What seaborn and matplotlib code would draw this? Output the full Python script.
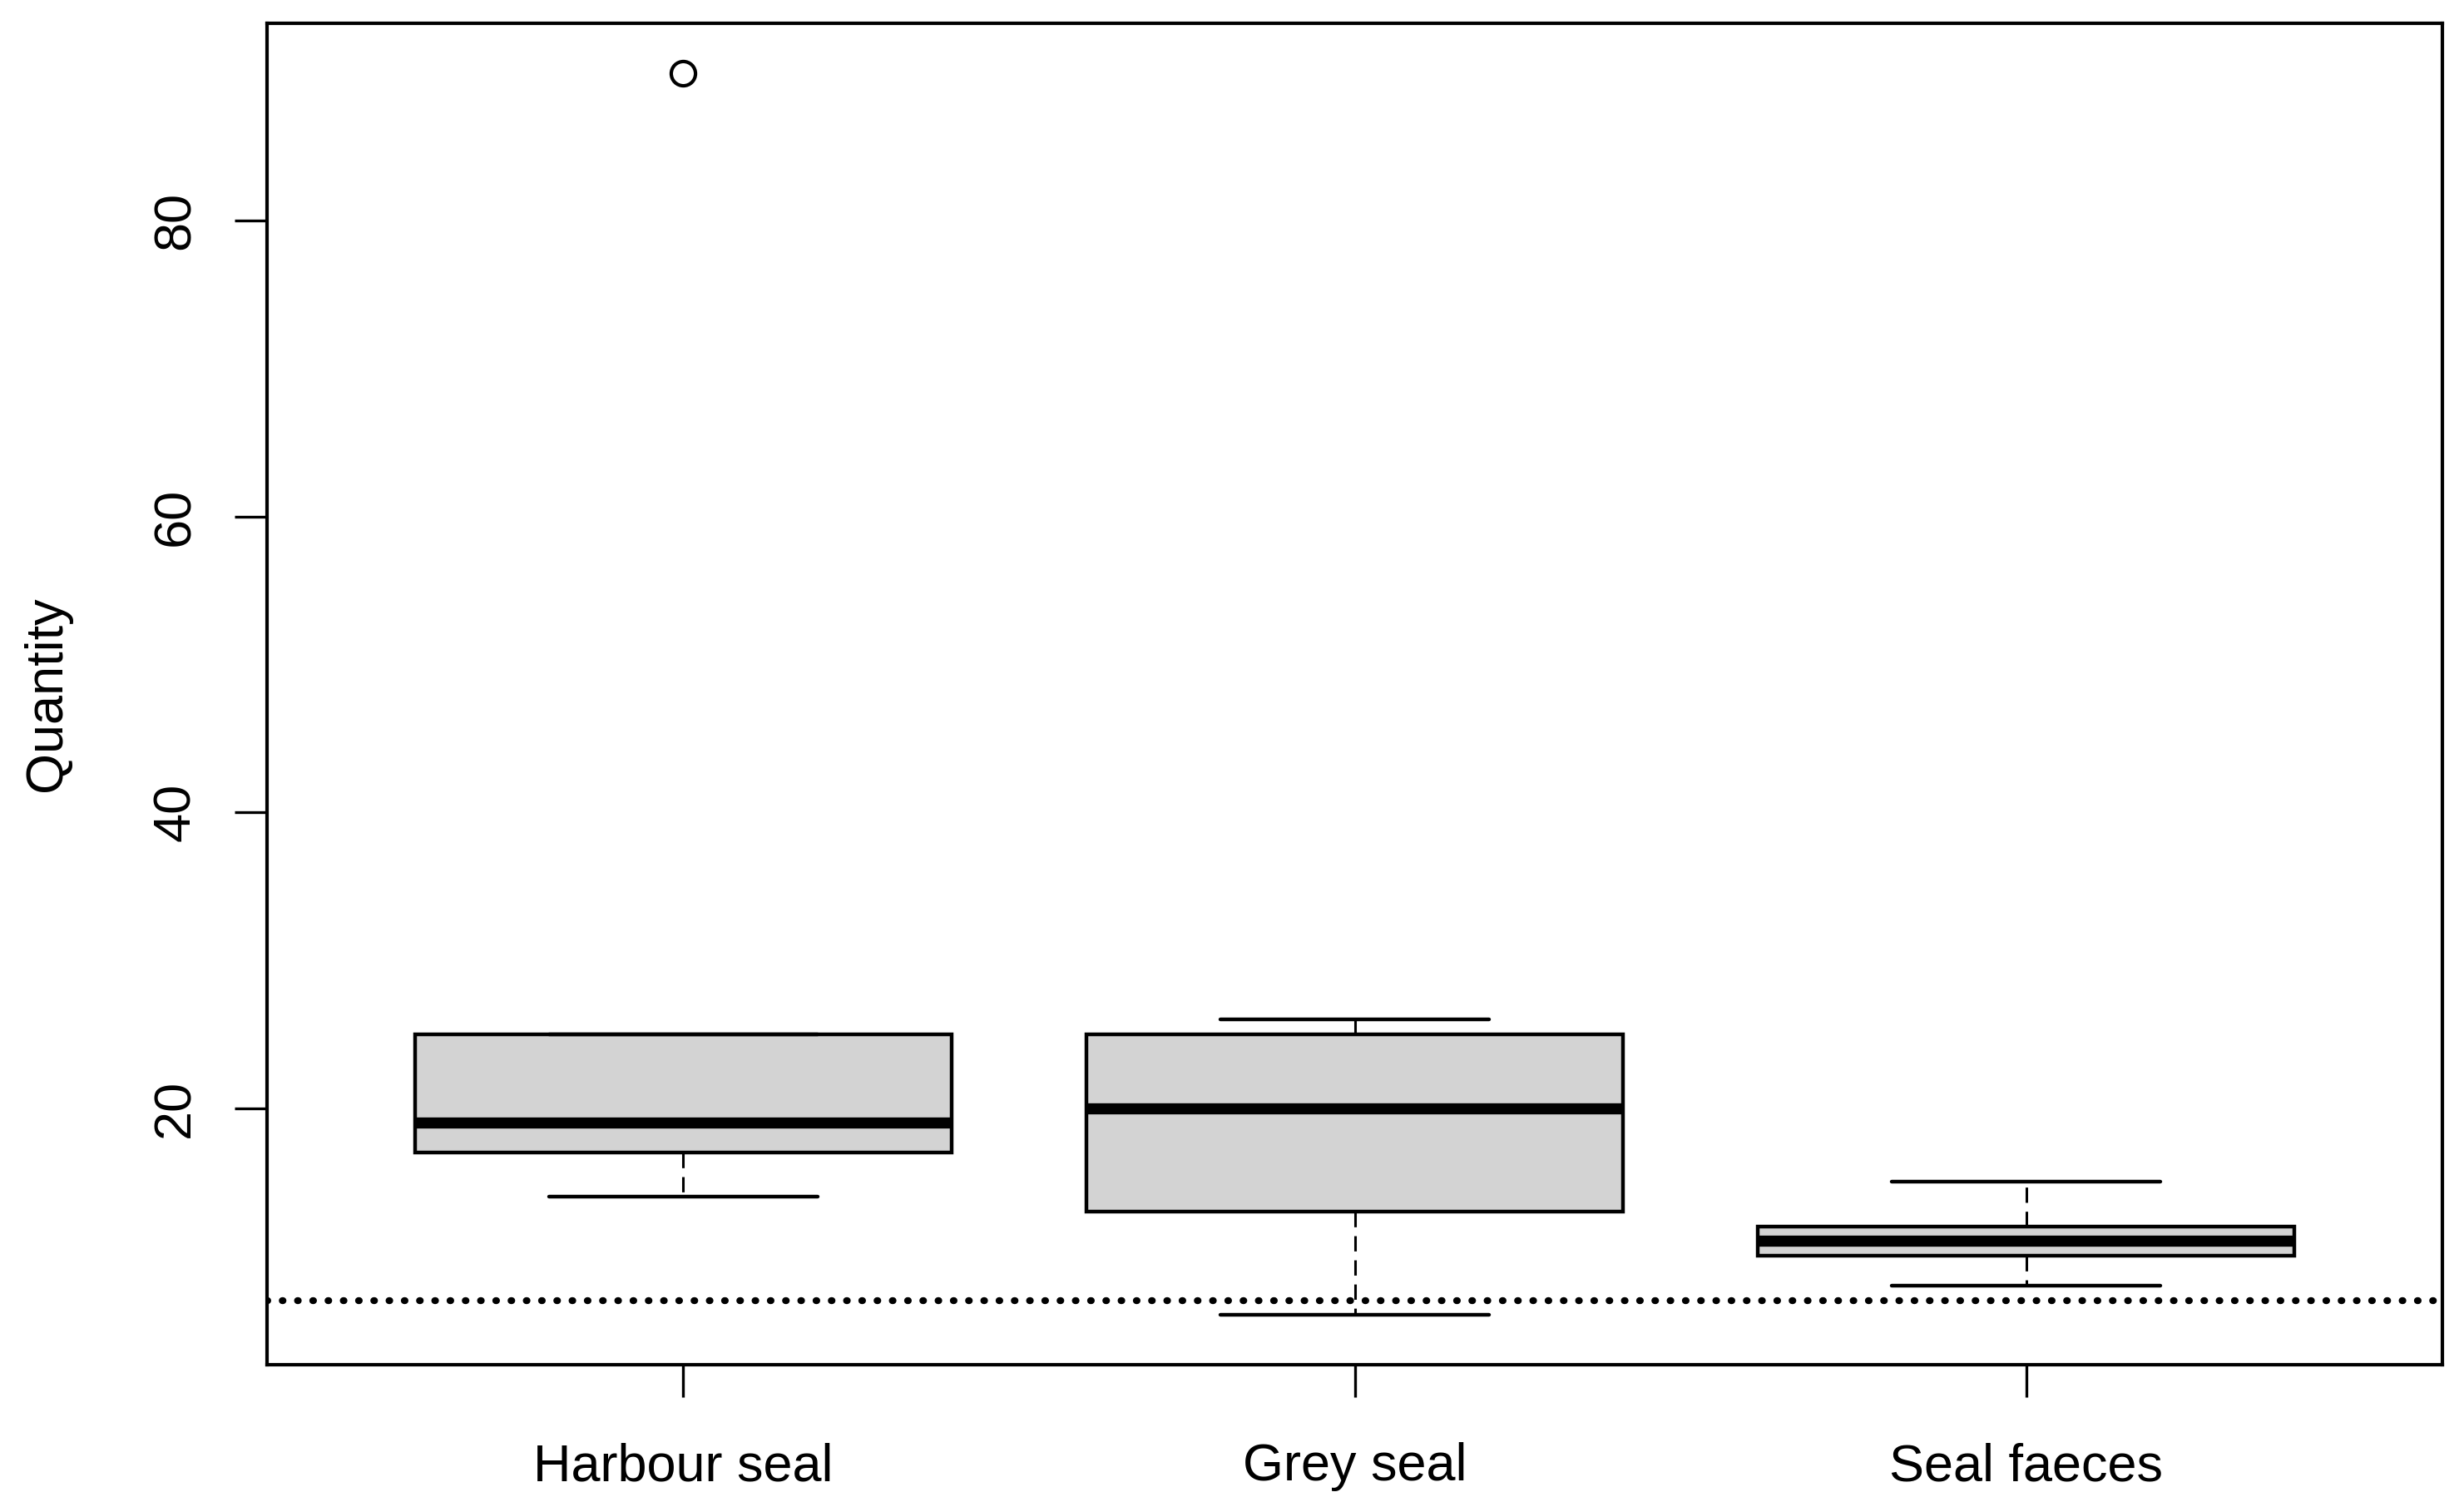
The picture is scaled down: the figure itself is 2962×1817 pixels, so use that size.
import pandas as pd
import matplotlib
matplotlib.use("Agg")
import matplotlib.pyplot as plt
import seaborn as sns

# values
groups = ["Harbour seal", "Grey seal", "Seal faeces"]
harbour_seal = [14, 17, 19, 25, 90]
grey_seal = [6, 13, 20, 25, 26]
seal_faeces = [8, 10, 11, 12, 15]
threshold = 7
y_ticks = [20, 40, 60, 80]

df = pd.DataFrame({
    "group": [groups[0]] * len(harbour_seal) + [groups[1]] * len(grey_seal) + [groups[2]] * len(seal_faeces),
    "Quantity": harbour_seal + grey_seal + seal_faeces,
})

sns.set_theme(style="ticks")
plt.rcParams["font.family"] = ["Liberation Sans", "DejaVu Sans"]
plt.rcParams["text.color"] = "black"
plt.rcParams["axes.labelcolor"] = "black"
plt.rcParams["xtick.color"] = "black"
plt.rcParams["ytick.color"] = "black"

fig, ax = plt.subplots(figsize=(14.81, 9.085), dpi=200)
fig.subplots_adjust(left=0.1084, right=0.9912, bottom=0.0974, top=0.9846)

sns.boxplot(
    data=df, x="group", y="Quantity", ax=ax,
    color="#d3d3d3", saturation=1, width=0.8, linecolor="black", linewidth=1.6,
    whiskerprops={"linestyle": (0, (6, 3.5)), "linewidth": 1.1, "color": "black"},
    capprops={"linewidth": 1.6, "color": "black"},
    medianprops={"linewidth": 4.8, "color": "black", "solid_capstyle": "butt"},
    flierprops={"marker": "o", "markersize": 10.5, "markerfacecolor": "none",
                "markeredgecolor": "black", "markeredgewidth": 1.5},
)

ax.axhline(threshold, color="black", linewidth=3.0, linestyle=(0, (0.1, 2.1)),
           dash_capstyle="round", zorder=5)

ax.set_xlim(-0.62, 2.62)
ax.set_ylim(2.64, 93.36)
ax.set_yticks(y_ticks)
ax.set_yticklabels([str(t) for t in y_ticks], rotation=90, va="center")
ax.set_xlabel("")
ax.set_ylabel("Quantity", fontsize=22.7)
ax.yaxis.set_label_coords(-0.090, 0.5)

for side in ["top", "right", "bottom", "left"]:
    ax.spines[side].set_visible(True)
    ax.spines[side].set_linewidth(1.5)
    ax.spines[side].set_color("black")

ax.tick_params(axis="both", direction="out", length=14, width=1.2, labelsize=22.7)
ax.tick_params(axis="x", pad=19.5)
ax.tick_params(axis="y", pad=15)

plt.savefig("out.png", dpi=200)
